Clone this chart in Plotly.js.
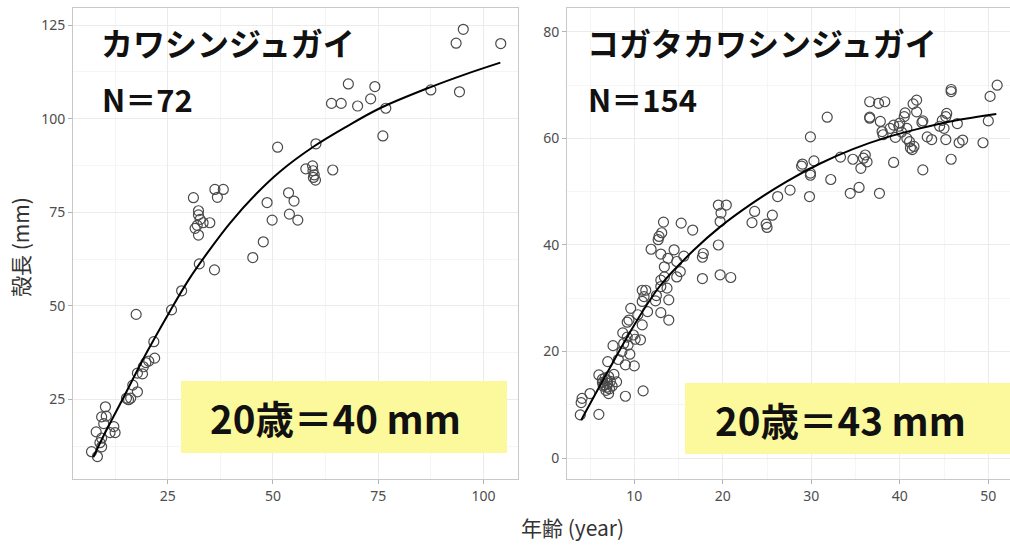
<!DOCTYPE html>
<html>
<head>
<meta charset="utf-8">
<script src="https://cdn.plot.ly/plotly-3.0.1.min.js"></script>
<style>html,body{margin:0;padding:0;background:#fff;}#chart{width:1010px;height:549px;}</style>
</head>
<body>
<div id="chart"></div>
<script>
// ---- Left panel: カワシンジュガイ (N=72) ----
const leftAge = [32.5,36.1,28.3,25.9,17.5,21.7,21.9,19.8,19.2,17.8,19.0,16.7,17.8,15.2,16.2,15.7,10.2,9.3,10.4,12.2,12.5,11.3,8.0,9.3,8.9,9.3,6.9,8.3,
  67.9,74.2,63.9,66.2,70.1,73.2,76.8,76.1,51.1,60.2,57.8,59.4,59.5,59.8,60.1,64.2,53.7,55.0,48.6,53.9,55.9,49.8,47.7,45.2,
  36.2,38.2,36.8,31.1,32.3,32.3,32.7,33.4,35.0,31.5,32.3,95.2,93.5,104.1,87.5,94.3,20.5,9.8,32.0,59.6];
const leftLen = [61.2,59.6,54.0,48.9,47.7,40.4,36.0,34.8,33.7,32.0,31.8,28.8,27.0,25.3,25.3,24.9,23.0,20.3,20.5,17.7,16.1,16.1,16.3,14.6,13.4,12.3,11.0,9.7,
  109.3,108.6,104.1,104.1,103.4,105.3,102.8,95.4,92.4,93.3,86.6,87.4,86.1,85.0,83.6,86.3,80.2,78.0,77.6,74.5,72.9,72.9,67.1,62.9,
  81.1,81.1,79.0,78.9,75.4,74.3,73.1,72.2,72.2,70.7,68.9,123.9,120.2,120.1,107.7,107.2,35.2,18.5,71.5,84.3];
const leftCurveAge = [7.3,10,14.4,20,25.5,30,34.2,39.8,46.1,51.7,59.6,67.5,75.4,87.3,96,104];
const leftCurveLen = [9.5,15.8,25.3,37.5,48.5,57.0,63.8,72.1,80.0,85.9,92.5,97.9,102.8,108.4,112.0,115.0];

// ---- Right panel: コガタカワシンジュガイ (N=154) ----
const rightAge = [19.5,20.4,19.8,19.7,13.3,15.3,16.6,13.1,12.8,12.7,11.9,13.0,14.5,13.8,14.8,15.6,13.4,17.8,17.7,19.5,
  14.8,13.4,13.0,17.7,19.7,20.9,13.7,13.0,10.9,11.3,11.1,10.9,12.4,13.9,9.6,10.4,9.4,9.2,10.9,13.0,13.9,
  8.7,9.9,9.2,10.1,10.7,8.8,9.3,7.6,8.6,7.0,9.0,10.0,7.7,8.0,6.0,6.7,6.9,7.0,6.6,6.9,7.2,6.8,7.1,9.0,11.0,5.0,4.1,4.0,3.9,6.0,7.3,6.4,7.5,
  51.0,50.2,50.0,49.4,45.8,45.8,45.3,45.2,44.8,45.0,46.5,45.2,46.7,47.1,45.8,42.6,41.9,41.5,41.9,40.6,40.5,42.5,42.6,40.0,39.9,40.8,38.9,38.0,38.1,39.5,40.8,41.1,41.2,41.4,43.1,43.6,
  36.6,37.6,38.3,36.6,36.6,37.8,39.3,37.7,36.1,35.9,36.3,35.6,34.7,33.3,35.4,34.4,32.2,31.8,29.9,30.3,29.0,28.9,29.9,29.9,29.8,27.6,26.2,25.6,23.6,23.3,24.9,25.0,
  40.2,39.3,41.6,44.5,6.4,7.1,6.5,12.5,11.5,15.2,9.5,8.2];
const rightLen = [47.5,47.5,46.0,44.4,44.3,44.1,42.8,42.3,41.6,41.0,39.2,38.3,39.1,37.5,36.9,37.9,35.9,38.4,37.7,40.0,
  34.0,34.0,33.4,33.7,34.4,33.9,31.9,32.2,31.5,31.5,30.3,29.4,29.5,29.7,28.1,26.9,25.9,25.5,25.0,27.3,25.9,
  23.5,23.1,22.7,22.3,22.2,21.5,21.2,21.1,20.0,18.1,17.5,17.3,15.7,14.3,15.6,15.0,14.6,14.0,13.8,13.3,13.0,12.7,12.1,11.6,12.6,12.1,11.2,10.4,8.1,8.2,14.4,14.2,13.5,
  70.0,67.9,63.3,59.2,69.2,68.8,64.7,64.1,63.4,61.9,62.8,59.8,59.2,59.7,56.1,54.1,67.2,66.5,65.0,64.8,64.1,63.0,63.3,62.9,62.3,61.9,61.9,61.3,60.7,60.2,60.0,59.4,58.2,57.9,60.3,59.8,
  66.9,66.6,66.9,64.0,63.8,63.2,55.5,49.7,56.9,56.3,55.6,54.4,56.1,56.5,50.8,49.7,52.3,64.0,60.3,55.8,55.2,54.8,53.5,53.1,49.1,50.3,49.1,45.6,46.3,44.2,43.9,43.3,
  61.2,62.5,58.5,62.3,14.8,15.3,13.5,30.5,27.5,35.0,19.5,18.5];
const rightCurveAge = [4.0,6.9,9.9,12.9,16.7,19.7,23.4,27.2,31.0,34.7,38.5,42.3,46.0,50.9];
const rightCurveLen = [7.1,15.9,24.7,32.3,39.0,43.4,47.9,51.9,55.3,58.0,60.2,61.9,63.3,64.6];

// ---- Text ----
const leftName = 'カワシンジュガイ', leftN = 'N＝72', leftNote = '20歳＝40 mm';
const rightName = 'コガタカワシンジュガイ', rightN = 'N＝154', rightNote = '20歳＝43 mm';
const xTitle = '年齢 (year)', yTitle = '殻長 (mm)';
const leftXTicks = [25,50,75,100], leftYTicks = [25,50,75,100,125];
const rightXTicks = [10,20,30,40,50], rightYTicks = [0,20,40,60,80];

const W = 1010, H = 549;
const px = v => v / W, py = v => 1 - v / H;

const markerStyle = {symbol: 'circle-open', size: 10, color: '#4a4a4a', line: {width: 1.2, color: '#4a4a4a'}};
const lineStyle = {color: '#000', width: 2, shape: 'spline'};

const traces = [
  {x: leftAge, y: leftLen, type: 'scatter', mode: 'markers', marker: markerStyle, xaxis: 'x', yaxis: 'y', hoverinfo: 'skip'},
  {x: leftCurveAge, y: leftCurveLen, type: 'scatter', mode: 'lines', line: lineStyle, xaxis: 'x', yaxis: 'y', hoverinfo: 'skip'},
  {x: rightAge, y: rightLen, type: 'scatter', mode: 'markers', marker: markerStyle, xaxis: 'x2', yaxis: 'y2', hoverinfo: 'skip'},
  {x: rightCurveAge, y: rightCurveLen, type: 'scatter', mode: 'lines', line: lineStyle, xaxis: 'x2', yaxis: 'y2', hoverinfo: 'skip'}
];

const tickFont = {family: 'Noto Sans, Open Sans, sans-serif', size: 14, color: '#4d4d4d'};
function axis(domain, range, ticks, minorDtick, anchor) {
  return {
    domain: domain, range: range, anchor: anchor,
    tickmode: 'array', tickvals: ticks, ticktext: ticks.map(String),
    ticks: 'outside', ticklen: 4, tickcolor: '#b3b3b3', tickwidth: 1,
    showline: true, mirror: true, linecolor: '#c8c8c8', linewidth: 1,
    showgrid: true, gridcolor: '#ebebeb', gridwidth: 1,
    minor: {dtick: minorDtick, tick0: 0, showgrid: true, gridcolor: '#f5f5f5', gridwidth: 1},
    zeroline: false, tickfont: tickFont, fixedrange: true
  };
}
const yDom = [py(479), py(8)];

const cjk = 'Noto Sans CJK JP, sans-serif';
const ann = (x, y, text, size, xanchor, extra) => Object.assign({
  xref: 'paper', yref: 'paper', x: px(x), y: py(y), text: text, showarrow: false,
  xanchor: xanchor, yanchor: 'middle', font: {family: cjk, size: size, color: '#111'}
}, extra || {});

const layout = {
  width: W, height: H,
  margin: {l: 0, r: 0, t: 0, b: 0},
  paper_bgcolor: '#fff', plot_bgcolor: '#fff',
  showlegend: false,
  xaxis: axis([px(73), px(518)], [2.5, 108.2], leftXTicks, 12.5, 'y'),
  yaxis: axis(yDom, [3.7, 129.6], leftYTicks, 12.5, 'x'),
  xaxis2: axis([px(567), 1], [2.4, 52.45], rightXTicks, 5, 'y2'),
  yaxis2: axis(yDom, [-3.94, 84.5], rightYTicks, 10, 'x2'),
  shapes: [
    {type: 'rect', xref: 'paper', yref: 'paper', x0: px(181), x1: px(507), y0: py(453), y1: py(381),
     fillcolor: 'rgb(251,249,155)', line: {width: 0}, layer: 'above'},
    {type: 'rect', xref: 'paper', yref: 'paper', x0: px(685), x1: px(1012), y0: py(454), y1: py(383),
     fillcolor: 'rgb(251,249,155)', line: {width: 0}, layer: 'above'}
  ],
  annotations: [
    ann(99, 42, '<b>' + leftName + '</b>', 32, 'left'),
    ann(100, 99, '<b>' + leftN + '</b>', 31, 'left'),
    ann(585, 42, '<b>' + rightName + '</b>', 32, 'left'),
    ann(586, 99, '<b>' + rightN + '</b>', 31, 'left'),
    ann(335, 417, '<b>' + leftNote + '</b>', 38.5, 'center'),
    ann(840, 419, '<b>' + rightNote + '</b>', 38.5, 'center'),
    ann(572, 527, xTitle, 21, 'center', {font: {family: cjk, size: 21, color: '#333'}}),
    ann(20, 247, yTitle, 21, 'center', {textangle: -90, font: {family: cjk, size: 21, color: '#333'}})
  ]
};

Plotly.newPlot('chart', traces, layout, {displayModeBar: false, staticPlot: true});
</script>
</body>
</html>
